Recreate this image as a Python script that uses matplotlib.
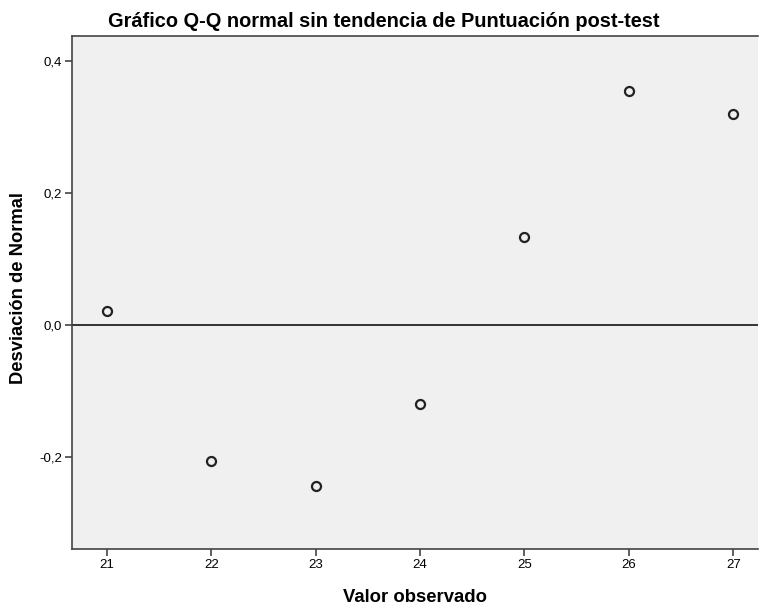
import matplotlib
matplotlib.use("Agg")
import matplotlib.pyplot as plt
from matplotlib.ticker import FuncFormatter

# === Data ===
observed = [21, 22, 23, 24, 25, 26, 27]
deviation = [0.021, -0.206, -0.243, -0.120, 0.133, 0.355, 0.320]
x_ticks = [21, 22, 23, 24, 25, 26, 27]
y_ticks = [-0.2, 0.0, 0.2, 0.4]

plt.rcParams['font.family'] = ['Liberation Sans', 'DejaVu Sans']

fig = plt.figure(figsize=(7.6, 6.08), dpi=100)
ax = fig.add_axes([0.0947, 0.097, 0.903, 0.844])
ax.set_facecolor('#f0f0f0')

ax.axhline(0, color='black', linewidth=1.1, zorder=1)
ax.plot(observed, deviation, linestyle='none', marker='o', markersize=6.5,
        markerfacecolor='none', markeredgecolor='#222222', markeredgewidth=1.6, zorder=3)

ax.set_xlim(20.666, 27.24)
ax.set_ylim(-0.339, 0.438)
ax.set_xticks(x_ticks)
ax.set_yticks(y_ticks)
ax.yaxis.set_major_formatter(FuncFormatter(lambda v, p: f"{v:.1f}".replace('.', ',').replace('-0,0', '0,0')))

ax.tick_params(direction='out', length=5, width=1.2, color='#444444', labelsize=9.5, pad=2)
for side in ['left', 'bottom', 'top']:
    ax.spines[side].set_color('#444444')
    ax.spines[side].set_linewidth(1.2)
ax.spines['right'].set_visible(False)

# === Titles and axis labels (SPSS-style placement) ===
fig.text(0.505, 0.956, "Gráfico Q-Q normal sin tendencia de Puntuación post-test",
         fontsize=14.4, fontweight='bold', ha='center', va='baseline')
fig.text(0.546, 0.010, "Valor observado", fontsize=13.3, fontweight='bold',
         ha='center', va='baseline')
fig.text(0.024, 0.526, "Desviación de Normal", fontsize=13.2, fontweight='bold',
         ha='center', va='center', rotation=90)

fig.savefig("out.png", dpi=100)
